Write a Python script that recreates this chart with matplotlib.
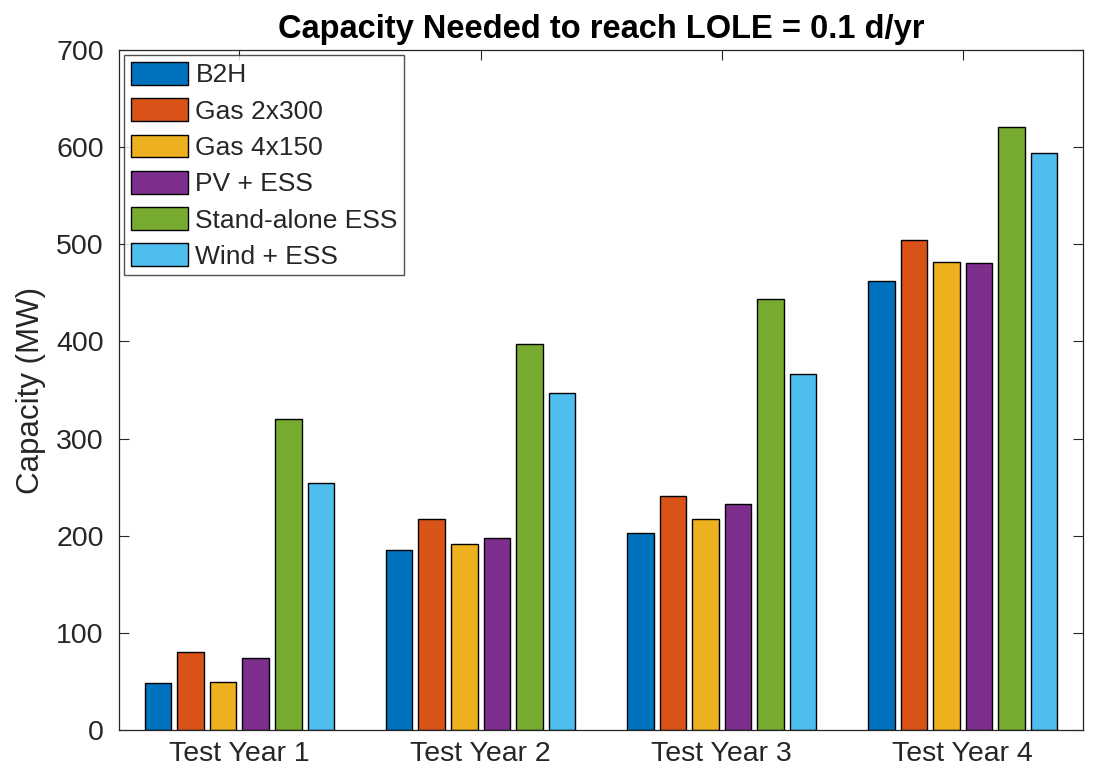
import numpy as np
import matplotlib.pyplot as plt

years = ["Test Year 1", "Test Year 2", "Test Year 3", "Test Year 4"]
series = ["B2H", "Gas 2x300", "Gas 4x150", "PV + ESS", "Stand-alone ESS", "Wind + ESS"]
colors = ["#0072BD", "#D95319", "#EDB120", "#7E2F8E", "#77AC30", "#4DBEEE"]

b2h = [48, 185, 203, 462]
gas_2x300 = [80, 217, 241, 505]
gas_4x150 = [49, 191, 217, 482]
pv_ess = [74, 198, 233, 481]
standalone_ess = [320, 397, 444, 621]
wind_ess = [254, 347, 367, 594]
values = [b2h, gas_2x300, gas_4x150, pv_ess, standalone_ess, wind_ess]

plt.rcParams['font.family'] = ['Liberation Sans', 'DejaVu Sans']
dark = "#262626"

fig = plt.figure(figsize=(11.01, 7.77), dpi=100)
ax = fig.add_axes([0.108, 0.0605, 0.876, 0.875])

x = np.arange(1, len(years) + 1)
slot = 0.135
width = 0.11
for i, (name, vals) in enumerate(zip(series, values)):
    offset = (i - (len(series) - 1) / 2) * slot
    ax.bar(x + offset, vals, width, color=colors[i], edgecolor="black",
           linewidth=1.0, label=name, zorder=2)

ax.set_xlim(0.5, 4.5)
ax.set_ylim(0, 700)
ax.set_xticks(x)
ax.set_xticklabels(years)
ax.set_yticks(np.arange(0, 701, 100))
ax.tick_params(axis="both", direction="in", labelsize=20.5, colors=dark,
               length=7, width=0.8)
ax.tick_params(axis="y", right=True, pad=11)
ax.tick_params(axis="x", bottom=False, top=True, pad=8)
for s in ax.spines.values():
    s.set_color(dark)
    s.set_linewidth(0.9)

ax.set_ylabel("Capacity (MW)", fontsize=22.5, color=dark, labelpad=7)
ax.set_title("Capacity Needed to reach LOLE = 0.1 d/yr", fontsize=23.5,
             fontweight="bold", color="black", pad=9)

leg = ax.legend(loc="upper left", fontsize=19, frameon=True, fancybox=False,
                edgecolor=dark, handlelength=2.15, handleheight=0.95,
                handletextpad=0.3, labelspacing=0.41, borderpad=0.25,
                borderaxespad=0.2)
leg.get_frame().set_linewidth(1.0)
for t in leg.get_texts():
    t.set_color(dark)

fig.savefig("out.png", dpi=100, facecolor="white")
